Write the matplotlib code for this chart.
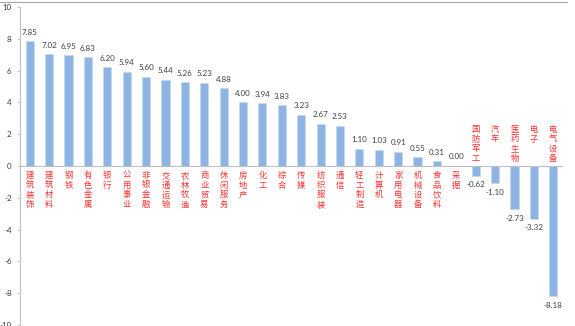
import matplotlib
matplotlib.use("Agg")
import matplotlib.pyplot as plt
from matplotlib.lines import Line2D

plt.rcParams['font.family'] = ['Noto Sans CJK SC', 'DejaVu Sans']

categories = ["建筑装饰", "建筑材料", "钢铁", "有色金属", "银行", "公用事业", "非银金融",
              "交通运输", "农林牧渔", "商业贸易", "休闲服务", "房地产", "化工", "综合",
              "传媒", "纺织服装", "通信", "轻工制造", "计算机", "家用电器", "机械设备",
              "食品饮料", "采掘", "国防军工", "汽车", "医药生物", "电子", "电气设备"]
values = [7.85, 7.02, 6.95, 6.83, 6.20, 5.94, 5.60, 5.44, 5.26, 5.23, 4.88, 4.00,
          3.94, 3.83, 3.23, 2.67, 2.53, 1.10, 1.03, 0.91, 0.55, 0.31, 0.00, -0.62,
          -1.10, -2.73, -3.32, -8.18]
yticks = [-10, -8, -6, -4, -2, 0, 2, 4, 6, 8, 10]

W, H = 575, 326
fig = plt.figure(figsize=(W / 100, H / 100), dpi=100)
ax = fig.add_axes([20 / W, 1 / H, (563 - 20) / W, (325 - 7) / H])

x = list(range(len(categories)))
ax.bar(x, values, width=0.42, color='#8DB4E2', edgecolor='#C6D9F1', linewidth=0.6, zorder=2)
ax.set_xlim(-0.5, len(categories) - 0.5)
ax.set_ylim(-10, 10)
ax.set_yticks(yticks)
ax.set_yticklabels([str(t) for t in yticks], fontsize=5.8, color='#404040', family='Lato')
ax.tick_params(axis='y', length=2, width=0.6, color='#BFBFBF', pad=4)
ax.set_xticks([])
for s in ['top', 'right', 'bottom']:
    ax.spines[s].set_visible(False)
ax.spines['left'].set_color('#BFBFBF')
ax.spines['left'].set_linewidth(0.8)
ax.axhline(0, color='#BFBFBF', linewidth=0.8, zorder=3)

for xi, v, c in zip(x, values, categories):
    if v >= 0:
        ax.annotate(f"{v:.2f}", (xi, v), xytext=(0, 4), textcoords='offset points',
                    ha='center', va='bottom', fontsize=5.8, color='#404040', family='Lato')
        ax.text(xi, -0.3, "\n".join(c), ha='center', va='top', fontsize=6,
                color='#FF3030', linespacing=1.12)
    else:
        ax.annotate(f"{v:.2f}", (xi, v), xytext=(0, -4), textcoords='offset points',
                    ha='center', va='top', fontsize=5.8, color='#404040', family='Lato')
        ax.text(xi, 2.6, "\n".join(c), ha='center', va='top', fontsize=6,
                color='#FF3030', linespacing=1.12)

fig.add_artist(Line2D([0, 567 / W], [1 - 2 / H, 1 - 2 / H], transform=fig.transFigure,
                      color='#A6A6A6', linewidth=0.8))

fig.savefig("out.png", dpi=100)
